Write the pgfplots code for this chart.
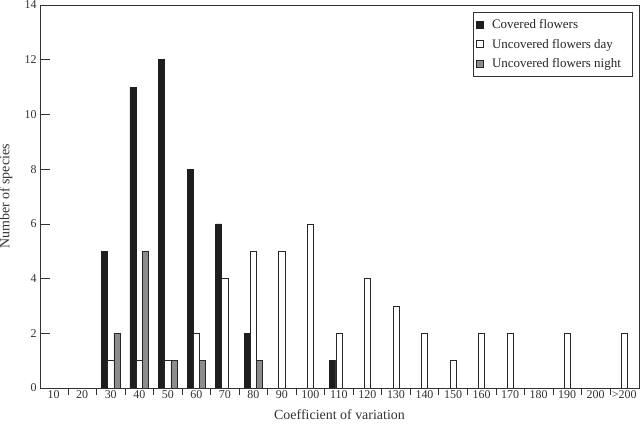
\documentclass[border=0pt]{standalone}
\usepackage{fontspec}
\setmainfont{Liberation Serif}
\usepackage{pgfplots}
\pgfplotsset{compat=1.18}
\definecolor{barblack}{RGB}{30,30,30}
\definecolor{bargray}{RGB}{140,140,140}
\definecolor{axgray}{RGB}{50,50,50}
\begin{document}
\begin{tikzpicture}
\useasboundingbox (-40bp,-36bp) rectangle (600bp,388bp);
\begin{axis}[
  at={(0,0)}, anchor=south west,
  scale only axis, width=599bp, height=383bp,
  xmin=-0.48, xmax=20.52, ymin=0, ymax=14,
  ytick={0,2,...,14},
  xtick={0,...,20},
  xticklabels={10,20,30,40,50,60,70,80,90,100,110,120,130,140,150,160,170,180,190,200,>200},
  minor xtick={0.5,1.5,...,19.5},
  major x tick style={draw=none},
  minor x tick style={draw=axgray, line width=0.6pt},
  minor tick length=7bp,
  major tick length=10bp,
  ytick style={draw=axgray, line width=0.6pt},
  xtick pos=bottom, ytick pos=left,
  tick align=inside,
  axis line style={draw=axgray, line width=0.8pt},
  /pgf/number format/assume math mode=true,
  tick label style={font=\fontsize{12}{14}\selectfont, text=axgray},
  yticklabel style={xshift=0bp},
  xticklabel style={anchor=center, yshift=3bp},
  label style={font=\fontsize{14}{16}\selectfont, text=axgray},
  xlabel={Coefficient of variation},
  ylabel={Number of species},
  xlabel style={at={(axis description cs:0.5,0)}, anchor=center, yshift=-27bp},
  ylabel style={at={(axis description cs:0,0.5)}, anchor=center, yshift=34bp},
  ybar=0pt, bar width=6.2bp,
  legend style={at={(0.7229,0.9817)}, anchor=north west, draw=axgray, line width=0.6pt,
    font=\fontsize{13}{15}\selectfont, text=black!85, inner xsep=2.5bp, inner ysep=5bp,
    row sep=5bp, cells={anchor=west}},
  legend image code/.code={\draw[#1, line width=0.6pt] (0bp,-3.5bp) rectangle (7bp,3.5bp); \path[draw=none, fill=none] (0bp,0bp) -- (14bp,0bp);},
]
\addplot[fill=barblack, draw=barblack, line width=0.5pt] coordinates {
  (2,5) (3,11) (4,12) (5,8) (6,6) (7,2) (10,1)};
\addplot[fill=white, draw=black!85, line width=0.6pt] coordinates {
  (2,1) (3,1) (4,1) (5,2) (6,4) (7,5) (8,5) (9,6) (10,2) (11,4) (12,3) (13,2) (14,1) (15,2) (16,2) (18,2) (20,2)};
\addplot[fill=bargray, draw=black!85, line width=0.6pt] coordinates {
  (2,2) (3,5) (4,1) (5,1) (7,1)};
\legend{Covered flowers, Uncovered flowers day, Uncovered flowers night\hspace*{7bp}}
\end{axis}
\end{tikzpicture}
\end{document}
